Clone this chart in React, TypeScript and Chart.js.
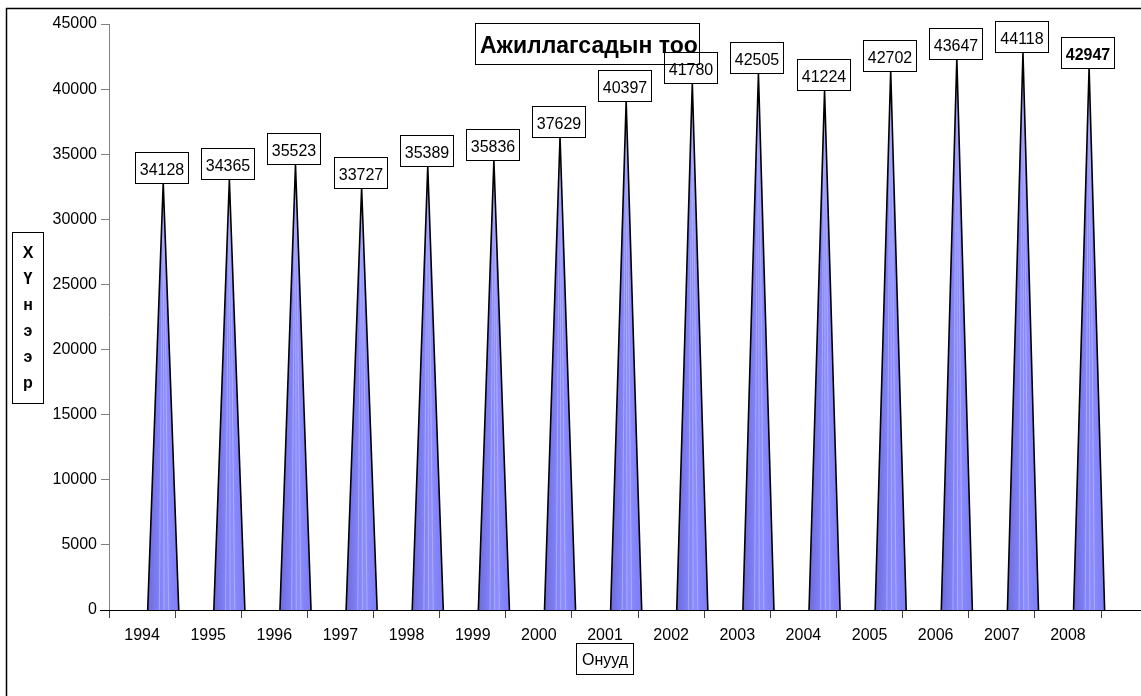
import React, { useEffect, useRef } from "react";
import { Chart, registerables } from "chart.js";

Chart.register(...registerables);

const years = ["1994", "1995", "1996", "1997", "1998", "1999", "2000", "2001", "2002", "2003", "2004", "2005", "2006", "2007", "2008"];
const workers = [34128, 34365, 35523, 33727, 35389, 35836, 37629, 40397, 41780, 42505, 41224, 42702, 43647, 44118, 42947];
const boldLabels = [false, false, false, false, false, false, false, false, false, false, false, false, false, false, true];
const yMin = 0;
const yMax = 45000;
const yStep = 5000;
const chartTitle = "Ажиллагсадын тоо";
const yTitleLetters = ["Х", "Ү", "н", "э", "э", "р"];
const xTitle = "Онууд";

const FONT = '"Liberation Sans", Arial, sans-serif';

const conePlugin = {
  id: "cones",
  afterDatasetsDraw(chart: any) {
    const ctx = chart.ctx as CanvasRenderingContext2D;
    const meta = chart.getDatasetMeta(0);
    const xs = chart.scales.x;
    const ys = chart.scales.y;
    const catW = (xs.right - xs.left) / years.length;
    const base = ys.getPixelForValue(0);
    ctx.save();
    meta.data.forEach((el: any, i: number) => {
      const cx = el.x + catW * 0.32;
      const peak = ys.getPixelForValue(workers[i]) + 17;
      const half = catW * 0.235;
      ctx.save();
      ctx.beginPath();
      ctx.moveTo(cx - half, base);
      ctx.lineTo(cx, peak);
      ctx.lineTo(cx + half, base);
      ctx.closePath();
      const g = ctx.createLinearGradient(cx - half, 0, cx + half, 0);
      g.addColorStop(0, "#6c6cdc");
      g.addColorStop(0.35, "#8080f6");
      g.addColorStop(0.6, "#8c8cff");
      g.addColorStop(1, "#7c7cf4");
      ctx.fillStyle = g;
      ctx.fill();
      ctx.clip();
      ctx.strokeStyle = "rgba(200,200,255,0.55)";
      ctx.lineWidth = 1;
      [-0.25, 0.05, 0.35].forEach((f) => {
        ctx.beginPath();
        ctx.moveTo(cx + f * half, base);
        ctx.lineTo(cx + f * half * 0.1, peak);
        ctx.stroke();
      });
      ctx.restore();
      ctx.beginPath();
      ctx.moveTo(cx - half, base);
      ctx.lineTo(cx, peak);
      ctx.lineTo(cx + half, base);
      ctx.strokeStyle = "#000";
      ctx.lineWidth = 1.6;
      ctx.stroke();
    });
    meta.data.forEach((el: any, i: number) => {
      const cx = el.x + catW * 0.32 - 1.5;
      const peak = ys.getPixelForValue(workers[i]) + 17;
      const w = 53;
      const h = 31;
      const left = Math.round(cx - w / 2) + 0.5;
      const top = Math.round(peak - h) + 0.5;
      ctx.fillStyle = "#fff";
      ctx.fillRect(left, top, w, h);
      ctx.strokeStyle = "#000";
      ctx.lineWidth = 1;
      ctx.strokeRect(left, top, w, h);
      ctx.fillStyle = "#000";
      ctx.font = (boldLabels[i] ? "bold " : "") + "16px " + FONT;
      ctx.textAlign = "center";
      ctx.textBaseline = "alphabetic";
      ctx.fillText(String(workers[i]), left + w / 2, top + h - 9);
    });
    ctx.restore();
  },
  afterDraw(chart: any) {
    const ctx = chart.ctx as CanvasRenderingContext2D;
    const xs = chart.scales.x;
    const ys = chart.scales.y;
    const base = Math.round(ys.getPixelForValue(0)) + 0.5;
    ctx.save();
    ctx.strokeStyle = "#000";
    ctx.lineWidth = 1;
    ctx.beginPath();
    ctx.moveTo(xs.left - 9, base);
    ctx.lineTo(chart.width, base);
    ctx.stroke();
    ctx.beginPath();
    ctx.moveTo(6.5, chart.height);
    ctx.lineTo(6.5, 8.5);
    ctx.lineTo(chart.width, 8.5);
    ctx.lineWidth = 1.5;
    ctx.stroke();
    ctx.lineWidth = 1;
    ctx.font = "bold 23px " + FONT;
    ctx.textAlign = "left";
    ctx.textBaseline = "alphabetic";
    ctx.fillStyle = "#000";
    ctx.fillText(chartTitle, 480, 53);
    ctx.strokeRect(475.5, 23.5, 224, 41);
    ctx.strokeRect(12.5, 232.5, 31, 171);
    ctx.font = "bold 16px " + FONT;
    ctx.textAlign = "center";
    yTitleLetters.forEach((c, i) => {
      ctx.fillText(c, 28, 258 + i * 26);
    });
    ctx.strokeRect(576.5, 643.5, 57, 31);
    ctx.font = "16px " + FONT;
    ctx.fillText(xTitle, 605, 665);
    ctx.restore();
  },
};

export default function App() {
  const ref = useRef<HTMLCanvasElement | null>(null);
  useEffect(() => {
    if (!ref.current) return;
    const chart = new Chart(ref.current, {
      type: "bar",
      data: {
        labels: years,
        datasets: [
          {
            data: workers,
            backgroundColor: "rgba(0,0,0,0)",
            borderWidth: 0,
          },
        ],
      },
      options: {
        animation: false,
        responsive: false,
        devicePixelRatio: 1,
        layout: { padding: { left: 0, right: 40, top: 24, bottom: 0 } },
        plugins: {
          legend: { display: false },
          tooltip: { enabled: false },
          title: { display: false },
        },
        scales: {
          x: {
            grid: {
              offset: true,
              drawOnChartArea: false,
              drawTicks: true,
              tickLength: 8,
              color: "#404040",
            },
            border: { display: false },
            ticks: {
              color: "#000",
              font: { family: FONT, size: 16 },
              padding: 8,
              maxRotation: 0,
              autoSkip: false,
            },
            afterFit: (s: any) => {
              s.height = 86;
            },
          },
          y: {
            min: yMin,
            max: yMax,
            grid: {
              drawOnChartArea: false,
              tickLength: 8,
              color: "#808080",
            },
            border: { display: true, color: "#808080", width: 1 },
            ticks: {
              stepSize: yStep,
              color: "#000",
              font: { family: FONT, size: 16 },
              padding: 4,
              callback: (v: any) => String(v),
            },
            afterFit: (s: any) => {
              s.width = 109;
            },
          },
        },
      },
      plugins: [conePlugin],
    });
    return () => chart.destroy();
  }, []);
  return (
    <div style={{ position: "absolute", left: 0, top: 0, width: 1141, height: 696, background: "#fff" }}>
      <canvas ref={ref} width={1141} height={696} />
    </div>
  );
}
